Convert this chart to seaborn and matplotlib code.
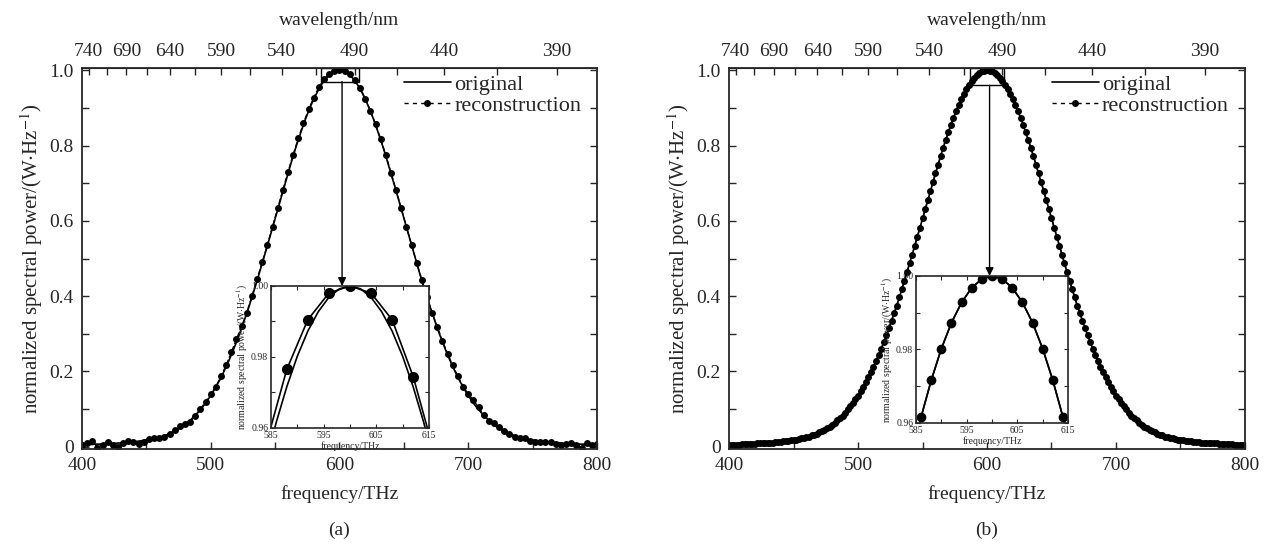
import numpy as np
import pandas as pd
import seaborn as sns
import matplotlib.pyplot as plt
from matplotlib.lines import Line2D
from matplotlib.patches import Rectangle
from matplotlib.ticker import MultipleLocator

# frequency grids (THz)
freq_fine = np.arange(400, 801, 2)      # original spectrum / reconstruction (b)
freq_coarse = np.arange(400, 801, 4)    # reconstruction (a)

# original spectrum, normalized (also the reconstruction in panel b)
power_original = [
    0.005, 0.006, 0.006, 0.006, 0.006, 0.007, 0.007, 0.007, 0.008, 0.008,
    0.008, 0.009, 0.009, 0.009, 0.010, 0.010, 0.011, 0.011, 0.012, 0.013,
    0.013, 0.014, 0.015, 0.016, 0.017, 0.018, 0.019, 0.020, 0.022, 0.023,
    0.025, 0.027, 0.030, 0.032, 0.035, 0.038, 0.041, 0.045, 0.049, 0.053,
    0.058, 0.064, 0.070, 0.077, 0.083, 0.091, 0.099, 0.107, 0.116, 0.126,
    0.136, 0.147, 0.159, 0.171, 0.184, 0.198, 0.213, 0.228, 0.244, 0.261,
    0.278, 0.296, 0.315, 0.335, 0.355, 0.375, 0.397, 0.419, 0.441, 0.464,
    0.487, 0.510, 0.534, 0.558, 0.582, 0.607, 0.631, 0.655, 0.679, 0.703,
    0.726, 0.749, 0.772, 0.794, 0.815, 0.835, 0.855, 0.874, 0.891, 0.908,
    0.923, 0.937, 0.9501, 0.9616, 0.9716, 0.9802, 0.9873, 0.9928, 0.9968, 0.9992,
    1.000,
    0.9992, 0.9968, 0.9928, 0.9873, 0.9802, 0.9716, 0.9616, 0.9501, 0.937, 0.923,
    0.908, 0.891, 0.874, 0.855, 0.835, 0.815, 0.794, 0.772, 0.749, 0.726,
    0.703, 0.679, 0.655, 0.631, 0.607, 0.582, 0.558, 0.534, 0.510, 0.487,
    0.464, 0.441, 0.419, 0.397, 0.375, 0.355, 0.335, 0.315, 0.296, 0.278,
    0.261, 0.244, 0.228, 0.213, 0.198, 0.184, 0.171, 0.159, 0.147, 0.136,
    0.126, 0.116, 0.107, 0.099, 0.091, 0.083, 0.077, 0.070, 0.064, 0.058,
    0.053, 0.049, 0.045, 0.041, 0.038, 0.035, 0.032, 0.030, 0.027, 0.025,
    0.023, 0.022, 0.020, 0.019, 0.018, 0.017, 0.016, 0.015, 0.014, 0.013,
    0.013, 0.012, 0.011, 0.011, 0.010, 0.010, 0.009, 0.009, 0.009, 0.008,
    0.008, 0.008, 0.007, 0.007, 0.007, 0.006, 0.006, 0.006, 0.006, 0.005,
]

# reconstruction in panel (a)
power_recon_a = [
    0.004, 0.010, 0.016, -0.002, 0.006, 0.013, 0.004, 0.000, 0.011, 0.015,
    0.012, 0.007, 0.012, 0.020, 0.024, 0.022, 0.025, 0.034, 0.044, 0.055,
    0.060, 0.067, 0.082, 0.100, 0.120, 0.140, 0.160, 0.187, 0.217, 0.251,
    0.286, 0.320, 0.356, 0.400, 0.446, 0.490, 0.536, 0.585, 0.633, 0.682,
    0.729, 0.776, 0.819, 0.859, 0.896, 0.927, 0.955, 0.9765, 0.9905, 0.998,
    1.000,
    0.998, 0.9905, 0.9745, 0.953, 0.925, 0.893, 0.857, 0.817, 0.774, 0.728,
    0.681, 0.633, 0.584, 0.536, 0.488, 0.442, 0.398, 0.356, 0.318, 0.281,
    0.247, 0.216, 0.187, 0.160, 0.140, 0.123, 0.105, 0.085, 0.069, 0.062,
    0.053, 0.043, 0.033, 0.027, 0.024, 0.022, 0.016, 0.012, 0.012, 0.013,
    0.013, 0.007, 0.004, 0.007, 0.011, 0.004, -0.004, 0.011, 0.004, 0.007,
]

freq_ticks = [400, 500, 600, 700, 800]
power_ticks = [0, 0.2, 0.4, 0.6, 0.8, 1.0]
power_tick_labels = ["0", "0.2", "0.4", "0.6", "0.8", "1.0"]
wl_ticks = [740, 690, 640, 590, 540, 490, 440, 390]
wl_minor = [715, 665, 615, 565, 515, 465, 415]
inset_xticks = [585, 595, 605, 615]
inset_yticks = [0.96, 0.98, 1.00]
inset_ytick_labels = ["0.96", "0.98", "1.00"]

C = 299792.458  # nm*THz


def f2w(x):
    x = np.asarray(x, dtype=float)
    with np.errstate(divide="ignore"):
        return C / x


sns.set_style("ticks")
plt.rcParams["font.family"] = ["Liberation Serif", "DejaVu Serif"]
plt.rcParams["mathtext.fontset"] = "stix"

df_orig = pd.DataFrame({"freq": freq_fine, "power": power_original})
df_rec_a = pd.DataFrame({"freq": freq_coarse, "power": power_recon_a})

fig = plt.figure(figsize=(12.71, 5.45), dpi=100)
ax_a = fig.add_axes([0.0645, 0.1761, 0.4052, 0.6991])
ax_b = fig.add_axes([0.5736, 0.1761, 0.4059, 0.6991])
ins_a = fig.add_axes([0.2132, 0.2147, 0.1243, 0.2606])
ins_b = fig.add_axes([0.7207, 0.2239, 0.1196, 0.2697])

panels = [
    (ax_a, ins_a, df_rec_a, "(a)", 5, 8, (586, 0.970, 29, 0.036)),
    (ax_b, ins_b, df_orig, "(b)", 5, 7, (587, 0.960, 26, 0.046)),
]

for ax, ins, df_rec, tag, ms, ms_in, box in panels:
    # main plot
    sns.lineplot(data=df_orig, x="freq", y="power", ax=ax, color="k", lw=1.2)
    sns.lineplot(data=df_rec, x="freq", y="power", ax=ax, color="k", lw=1.0,
                 linestyle="--", marker="o", markersize=ms, markeredgewidth=0)
    ax.set_xlim(400, 800)
    ax.set_ylim(-0.006, 1.006)
    ax.set_xticks(freq_ticks)
    ax.xaxis.set_minor_locator(MultipleLocator(50))
    ax.set_yticks(power_ticks)
    ax.set_yticklabels(power_tick_labels)
    ax.yaxis.set_minor_locator(MultipleLocator(0.1))
    ax.tick_params(which="both", direction="in", top=False, right=True,
                   length=5, width=1, labelsize=14, pad=6)
    for sp in ax.spines.values():
        sp.set_linewidth(1.3)
    ax.set_xlabel("frequency/THz", fontsize=14, labelpad=8)
    ax.set_ylabel("normalized spectral power/(W$\\cdot$Hz$^{-1}$)", fontsize=15, labelpad=3)

    # wavelength axis on top
    sec = ax.secondary_xaxis("top", functions=(f2w, f2w))
    sec.set_xticks(wl_ticks)
    sec.set_xticks(wl_minor, minor=True)
    sec.tick_params(which="both", direction="in", length=5, width=1, labelsize=14, pad=6)
    sec.set_xlabel("wavelength/nm", fontsize=14, labelpad=13)

    handles = [
        Line2D([], [], color="k", lw=1.2),
        Line2D([], [], color="k", lw=1.0, linestyle=(0, (3, 3)), marker="o",
               markersize=ms, markeredgewidth=0),
    ]
    ax.legend(handles, ["original", "reconstruction"], loc="upper right",
              bbox_to_anchor=(0.982, 1.0),
              frameon=False, fontsize=16, handlelength=2.1, handletextpad=0.15,
              labelspacing=0.0, borderpad=0.1, borderaxespad=0.2)

    # zoom box and arrow
    ax.add_patch(Rectangle(box[:2], box[2], box[3], fill=False, ec="k", lw=1.0))
    ax.annotate("", xy=(602, 1.0), xycoords=(ax.transData, ins.transAxes),
                xytext=(602, box[1]), textcoords="data",
                arrowprops=dict(arrowstyle="-|>", color="k", lw=1.0,
                                mutation_scale=12, shrinkA=0, shrinkB=0))

    ax.text(0.5, -0.19, tag, transform=ax.transAxes, ha="center", va="top", fontsize=14)

    # inset
    ins.set_facecolor("white")
    sns.lineplot(data=df_orig, x="freq", y="power", ax=ins, color="k", lw=1.2)
    sns.lineplot(data=df_rec, x="freq", y="power", ax=ins, color="k", lw=1.2,
                 marker="o", markersize=ms_in, markeredgewidth=0)
    ins.set_xlim(585, 615)
    ins.set_ylim(0.96, 1.0)
    ins.set_xticks(inset_xticks)
    ins.set_yticks(inset_yticks)
    ins.set_yticklabels(inset_ytick_labels)
    ins.xaxis.set_minor_locator(MultipleLocator(5))
    ins.yaxis.set_minor_locator(MultipleLocator(0.01))
    ins.tick_params(which="both", direction="in", top=True, right=True,
                    length=3, width=0.8, labelsize=7, pad=2)
    for sp in ins.spines.values():
        sp.set_linewidth(1.2)
    ins.set_xlabel("frequency/THz", fontsize=7, labelpad=1)
    ins.set_ylabel("normalized spectral power/(W$\\cdot$Hz$^{-1}$)", fontsize=7, labelpad=1)

fig.savefig("out.png", dpi=100)
